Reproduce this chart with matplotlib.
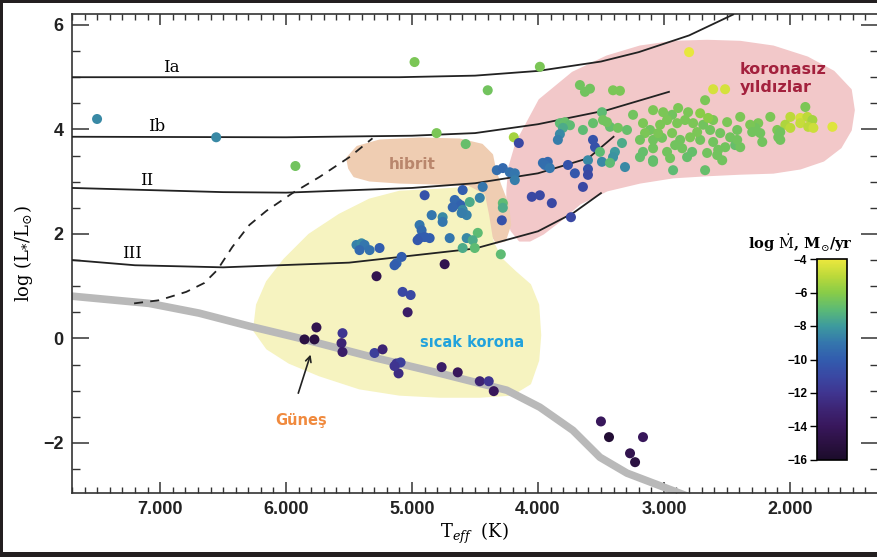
import matplotlib
matplotlib.use("Agg")
import matplotlib.pyplot as plt
import numpy as np
from matplotlib.colors import LinearSegmentedColormap, Normalize
from matplotlib.patches import Polygon, Rectangle
from matplotlib.cm import ScalarMappable
from matplotlib.ticker import MultipleLocator, FixedLocator, FixedFormatter

plt.rcParams['mathtext.fontset'] = 'dejavuserif'

# ---------------- data ----------------
x_ticks = [7000, 6000, 5000, 4000, 3000, 2000]
x_tick_labels = ['7.000', '6.000', '5.000', '4.000', '3.000', '2.000']
y_ticks = [-2, 0, 2, 4, 6]
y_tick_labels = ['\u22122', '0', '2', '4', '6']
cbar_ticks = [-4, -6, -8, -10, -12, -14, -16]
cbar_tick_labels = ['\u22124', '\u22126', '\u22128', '\u221210', '\u221212', '\u221214', '\u221216']

# luminosity class tracks (Teff, log L)
ia_T = [7700, 5100, 4500, 4000, 3500, 3200, 2800, 2450]
ia_L = [5.0, 5.0, 5.03, 5.12, 5.3, 5.48, 5.8, 6.2]
ib_T = [7700, 6000, 5000, 4500, 4000, 3450, 2960]
ib_L = [3.86, 3.85, 3.88, 3.93, 4.1, 4.37, 4.72]
ii_T = [7700, 6500, 6000, 5000, 4500, 4000, 3600, 3400]
ii_L = [2.88, 2.80, 2.79, 2.88, 2.97, 3.16, 3.45, 3.86]
iii_T = [7700, 7200, 6500, 5500, 4500, 4000, 3720, 3500]
iii_L = [1.5, 1.4, 1.36, 1.45, 1.72, 2.05, 2.4, 2.78]

# main sequence
ms_T = [7708, 7088, 6690, 6292, 5894, 5314, 4781, 4248, 3985, 3723, 3508, 3293, 3086, 2792]
ms_L = [0.81, 0.67, 0.483, 0.234, 0.004, -0.36, -0.667, -0.992, -1.318, -1.76, -2.276, -2.58, -2.77, -3.04]

# dividing line (dashed)
dl_T = [7207, 7008, 6793, 6650, 6546, 6427, 6292, 6157, 5950, 5735, 5497, 5314]
dl_L = [0.67, 0.73, 0.89, 1.06, 1.31, 1.75, 2.17, 2.44, 2.78, 3.09, 3.47, 3.83]

# regions
pink_T = [4168, 3985, 3723, 3452, 3190, 2927, 2657, 2394, 2132, 1861, 1654, 1519, 1495, 1519,
          1599, 1734, 1917, 2132, 2394, 2657, 2927, 3190, 3452, 3667, 3826, 3961, 4065, 4144,
          4208, 4240, 4240, 4224]
pink_L = [3.74, 4.56, 5.08, 5.39, 5.58, 5.67, 5.69, 5.67, 5.58, 5.37, 5.10, 4.755, 4.37, 3.99,
          3.66, 3.41, 3.26, 3.18, 3.16, 3.13, 3.09, 2.99, 2.84, 2.59, 2.26, 2.01, 1.88, 1.88,
          2.07, 2.40, 2.84, 3.28]
hib_T = [5497, 5512, 5433, 5258, 4940, 4622, 4446, 4367, 4343, 4303, 4240, 4224, 4264, 4327,
         4383, 4431, 4478, 4542, 4781, 5099, 5337, 5457]
hib_L = [3.26, 3.45, 3.66, 3.78, 3.82, 3.80, 3.70, 3.51, 3.22, 2.94, 2.55, 2.17, 1.88, 1.84,
         2.07, 2.46, 2.74, 2.94, 2.97, 2.99, 3.03, 3.11]
yel_T = [6252, 6228, 6149, 6014, 5815, 5576, 5337, 5099, 4781, 4542, 4431, 4399, 4367, 4303,
         4184, 4065, 4001, 3985, 4001, 4065, 4208, 4462, 4781, 5099, 5417, 5735, 5974, 6149]
yel_L = [0.157, 0.64, 1.08, 1.50, 1.98, 2.36, 2.65, 2.80, 2.84, 2.88, 2.74, 2.36, 1.88, 1.54,
         1.27, 1.02, 0.64, 0.06, -0.42, -0.86, -1.07, -1.11, -1.11, -1.07, -0.95, -0.70, -0.46, -0.19]

# stars: Teff, log L, log Mdot
star_T = [7501, 6555, 5926, 4980, 3985, 4399, 4805, 2800, 4574, 4192, 4152,
          4327, 4279, 4224, 4184, 4184, 3961,
          4900, 4598, 4439, 4637, 4661, 4614, 4677, 4542, 4462, 4598, 4566, 4606, 4279, 4279, 4287,
          4844, 4757, 4757, 4940, 4924, 4940, 4900, 4860, 4956, 4701, 4566, 4478, 4518, 4598, 4502, 4295,
          5441, 5401, 5377, 5417, 5337, 5258, 5083, 5123, 5139, 4741, 5282,
          5075, 5011, 5035, 5759, 5854, 5775, 5552, 5560, 5552, 5298, 5234, 5123, 5091, 5107, 5139,
          4765, 4637, 4462, 4391, 4351,
          3500, 3436, 3166, 3269, 3229,
          3667, 3627, 3587, 3404, 3349, 3492, 3245, 3826, 3786, 3746, 3802, 3826, 3842, 3643, 3563,
          3484, 3428, 3365, 3293, 3452, 3563, 3547, 3508, 3389, 3333, 3404, 3603, 3492, 3309,
          3922, 3945, 3906, 3762, 3707, 3603, 3603, 3643, 4049, 3985, 3890, 3738, 3428, 3086, 2927,
          2673, 2394, 3086, 2935, 2808, 2712, 2609, 2498, 2418, 3166, 3110, 3030, 2975, 2895, 2832,
          2768, 2688, 2633, 2553, 2474, 3086, 3015, 2935, 2871, 2792, 2712, 2609, 2513, 2434,
          3166, 3086, 2975, 2855, 2776, 2657, 2569, 3086, 2951, 2816, 2537, 2673,
          3150, 3046, 2911, 2736, 2649, 3190, 3006, 2887, 3190,
          2609, 2514, 1877, 1996, 1917, 1861, 1821, 1662, 2155, 2251, 2275, 2235, 2219, 2100, 2092,
          2036, 1996, 1917, 1854, 1813, 2315, 2299, 2418, 2394, 2577, 2076, 2076]
star_L = [4.20, 3.85, 3.30, 5.29, 5.20, 4.75, 3.93, 5.48, 3.72, 3.85, 3.74,
          3.22, 3.26, 3.18, 3.16, 3.03, 3.36,
          2.74, 2.84, 2.90, 2.59, 2.65, 2.55, 2.51, 2.61, 2.69, 2.46, 2.36, 2.40, 2.59, 2.50, 2.26,
          2.36, 2.32, 2.23, 2.17, 2.07, 1.92, 1.94, 1.92, 1.88, 1.92, 1.92, 2.02, 1.88, 1.73, 1.73, 1.61,
          1.79, 1.82, 1.79, 1.69, 1.69, 1.73, 1.56, 1.44, 1.40, 1.42, 1.19,
          0.89, 0.83, 0.50, 0.21, -0.02, -0.02, 0.10, -0.09, -0.26, -0.28, -0.21, -0.48, -0.46, -0.67, -0.53,
          -0.55, -0.65, -0.82, -0.82, -1.01,
          -1.59, -1.89, -1.89, -2.20, -2.37,
          4.85, 4.72, 4.78, 4.75, 4.74, 4.33, 4.28, 4.12, 4.14, 4.08, 4.03, 3.91, 3.80, 3.99, 4.12,
          4.18, 4.05, 4.03, 3.99, 4.14, 3.80, 3.66, 3.57, 3.57, 3.74, 3.47, 3.41, 3.38, 3.28,
          3.38, 3.32, 3.26, 3.32, 3.16, 3.24, 3.13, 2.90, 2.71, 2.74, 2.59, 2.32, 3.36, 3.41, 3.22,
          4.56, 4.24, 4.37, 4.28, 4.33, 4.31, 4.18, 4.14, 3.99, 4.12, 3.99, 4.09, 4.18, 4.12, 4.18,
          4.12, 4.09, 3.99, 3.93, 3.85, 3.80, 3.84, 3.93, 3.80, 3.85, 3.80, 3.76, 3.66, 3.70,
          3.57, 3.64, 3.57, 3.64, 3.57, 3.55, 3.61, 3.38, 3.45, 3.47, 3.41, 3.22,
          3.93, 3.93, 3.70, 3.95, 4.22, 3.80, 4.33, 4.41, 3.47,
          4.77, 4.77, 4.43, 4.24, 4.22, 4.24, 4.18, 4.05, 4.24, 4.12, 4.03, 3.93, 3.76, 3.99, 3.85,
          4.09, 4.03, 4.12, 4.05, 4.03, 4.09, 3.95, 3.80, 3.66, 3.51, 3.95, 3.80]
star_M = [-8.5, -8.5, -6.5, -6.3, -6.3, -6.5, -6.3, -4.1, -6.8, -5.5, -11,
          -9.3, -9.5, -9.2, -9.0, -8.8, -9.3,
          -10.5, -10, -9, -9.5, -9.5, -9.8, -9.6, -7.5, -8.7, -8.5, -8.7, -8.8, -7.0, -7.5, -10.5,
          -9.0, -8.5, -9.0, -9.0, -9.5, -10, -10, -10, -10.2, -9.0, -8.5, -7.0, -7.5, -7.5, -7.0, -7.0,
          -8.7, -8.5, -9.0, -9.5, -9.2, -10, -10, -9.8, -10, -14.5, -14.5,
          -11, -11, -13.5, -14.5, -15, -15, -12, -13, -13.5, -11.5, -13, -12, -11.5, -12.5, -12,
          -13.5, -14, -13, -12, -14,
          -14, -15.5, -14, -14.5, -15,
          -6.5, -6.5, -6.5, -6.3, -6.3, -7, -6.5, -7, -6.8, -7, -7.5, -8.5, -8.8, -7, -6.8,
          -6.5, -6.8, -6.5, -6.8, -6.5, -10.5, -10.5, -7, -8, -7.5, -8.2, -8.5, -8.5, -8.5,
          -9.5, -9.3, -9.0, -10.5, -10.2, -10.5, -11, -11, -11, -11, -11, -11, -7, -7, -7,
          -6.3, -6.3, -6.3, -6.5, -6.3, -6.0, -6.3, -6.3, -6.5, -6.3, -6.5, -6.3, -6.3, -6.3, -6.3,
          -6.3, -6.5, -6.5, -6.5, -6.5, -6.5, -6.5, -6.3, -6.5, -6.3, -6.5, -6.5, -6.5, -6.8,
          -6.8, -6.5, -6.5, -6.5, -6.8, -6.5, -6.5, -6.8, -6.5, -6.8, -6.5, -6.8,
          -6.3, -6.3, -6.5, -6.3, -6.0, -6.5, -6.3, -6.3, -6.8,
          -4.5, -4.5, -6.3, -5.0, -4.5, -5.0, -5.5, -4.3, -6.3, -6.3, -6.5, -6.5, -6.5, -6.3, -6.5,
          -5.3, -5.0, -4.8, -5.0, -4.7, -6.3, -6.5, -6.5, -6.5, -6.5, -6.5, -6.5]

cmap_colors = ['#1b0c2a', '#2b1142', '#38175c', '#3d2473', '#3f3590', '#3a48a3', '#325cae',
               '#3476ad', '#3d9a9e', '#5cba75', '#88cc48', '#bcd93a', '#ece83e']

# ---------------- figure ----------------
fig = plt.figure(figsize=(8.78, 5.57), dpi=100, facecolor='#231f20')
fig.patches.append(Rectangle((3 / 878, 5 / 557), 1 - 3 / 878, 1 - 8 / 557,
                             transform=fig.transFigure, facecolor='white',
                             edgecolor='none', zorder=-10))

ax = fig.add_axes([72 / 878, 1 - 493 / 557, 806 / 878, 479 / 557])
ax.set_xlim(7700, 1300)
ax.set_ylim(-2.96, 6.21)

ax.add_patch(Polygon(np.column_stack([pink_T, pink_L]), closed=True,
                     facecolor='#f2c8c9', edgecolor='#f2c8c9', lw=2, joinstyle='round', zorder=1))
ax.add_patch(Polygon(np.column_stack([hib_T, hib_L]), closed=True,
                     facecolor='#efcdb2', edgecolor='#efcdb2', lw=2, joinstyle='round', zorder=1))
ax.add_patch(Polygon(np.column_stack([yel_T, yel_L]), closed=True,
                     facecolor='#f6f3c0', edgecolor='#f6f3c0', lw=2, joinstyle='round', zorder=1.1))

ax.plot(ms_T, ms_L, color='#b9b9b9', lw=5.5, solid_capstyle='butt',
        solid_joinstyle='round', zorder=2)
for tt, ll in [(ia_T, ia_L), (ib_T, ib_L), (ii_T, ii_L), (iii_T, iii_L)]:
    ax.plot(tt, ll, color='#222222', lw=1.3, solid_joinstyle='round', zorder=3)
ax.plot(dl_T, dl_L, color='#222222', lw=1.3, ls=(0, (5, 4)), zorder=3)

cmap = LinearSegmentedColormap.from_list('mdot', cmap_colors)
norm = Normalize(vmin=-16, vmax=-4)
ax.scatter(star_T, star_L, c=star_M, cmap=cmap, norm=norm, s=52,
           edgecolors='none', zorder=4)

serif = 'DejaVu Serif'
for lab, t, l in [('Ia', 6912, 5.18), ('Ib', 7024, 4.05), ('II', 7111, 3.03), ('III', 7223, 1.63)]:
    ax.text(t, l, lab, family=serif, fontsize=12, ha='center', va='center', zorder=5)

ax.text(4995, 3.32, 'hibrit', fontsize=11, fontweight='bold', color='#b9866c',
        ha='center', va='center', zorder=5)
ax.text(2400, 4.98, 'koronas\u0131z\ny\u0131ld\u0131zlar', fontsize=11.5, fontweight='bold',
        color='#a3213d', ha='left', va='center', linespacing=1.25, zorder=5)
ax.text(4526, -0.07, 's\u0131cak korona', fontsize=10.5, fontweight='bold', color='#22a2dc',
        ha='center', va='center', zorder=5)
ax.text(5878, -1.57, 'G\u00fcne\u015f', fontsize=10.5, fontweight='bold', color='#f08a3e',
        ha='center', va='center', zorder=5)
ax.annotate('', xy=(5799, -0.26), xytext=(5910, -1.1),
            arrowprops=dict(arrowstyle='->', color='#222222', lw=1.2), zorder=5)

# axes styling
for sp in ax.spines.values():
    sp.set_color('#333333')
    sp.set_linewidth(1.2)
ax.xaxis.set_major_locator(FixedLocator(x_ticks))
ax.xaxis.set_major_formatter(FixedFormatter(x_tick_labels))
ax.xaxis.set_minor_locator(MultipleLocator(100))
ax.yaxis.set_major_locator(FixedLocator(y_ticks))
ax.yaxis.set_major_formatter(FixedFormatter(y_tick_labels))
ax.yaxis.set_minor_locator(MultipleLocator(0.5))
ax.tick_params(axis='x', which='major', direction='in', length=8, width=1.1,
               top=True, bottom=True, pad=6, color='#333333')
ax.tick_params(axis='x', which='minor', direction='in', length=4, width=1.0,
               top=True, bottom=True, color='#333333')
ax.tick_params(axis='y', which='major', direction='in', length=12, width=1.1,
               left=True, right=True, pad=6, color='#333333')
ax.tick_params(axis='y', which='minor', direction='in', length=6, width=1.0,
               left=True, right=True, color='#333333')
for lbl in ax.get_xticklabels() + ax.get_yticklabels():
    lbl.set_family('Liberation Sans')
    lbl.set_fontweight('bold')
    lbl.set_fontsize(13)
    lbl.set_color('#222222')

ax.set_xlabel(r'T$_{\it eff}$  (K)', family=serif, fontsize=13, labelpad=2)
ax.set_ylabel(r'log (L$_{*}$/L$_{\odot}$)', family=serif, fontsize=13, labelpad=6)

# colorbar
cax = fig.add_axes([817 / 878, 1 - 460 / 557, 30 / 878, 201 / 557])
sm = ScalarMappable(norm=norm, cmap=cmap)
cb = fig.colorbar(sm, cax=cax, orientation='vertical')
cb.set_ticks(cbar_ticks)
cb.set_ticklabels(cbar_tick_labels)
cax.yaxis.set_ticks_position('left')
cax.yaxis.set_label_position('left')
cax.tick_params(direction='out', length=5, width=1.0, pad=2, labelsize=8.5)
for lbl in cax.get_yticklabels():
    lbl.set_fontweight('bold')
    lbl.set_family('Liberation Sans')
cb.outline.set_linewidth(1.2)
fig.text(800 / 878, 1 - 243 / 557, r'log $\dot{\rm M}$, M$_{\odot}$/yr', family=serif,
         fontsize=10.5, fontweight='bold', ha='center', va='center')

fig.savefig('out.png', dpi=100, facecolor=fig.get_facecolor())
